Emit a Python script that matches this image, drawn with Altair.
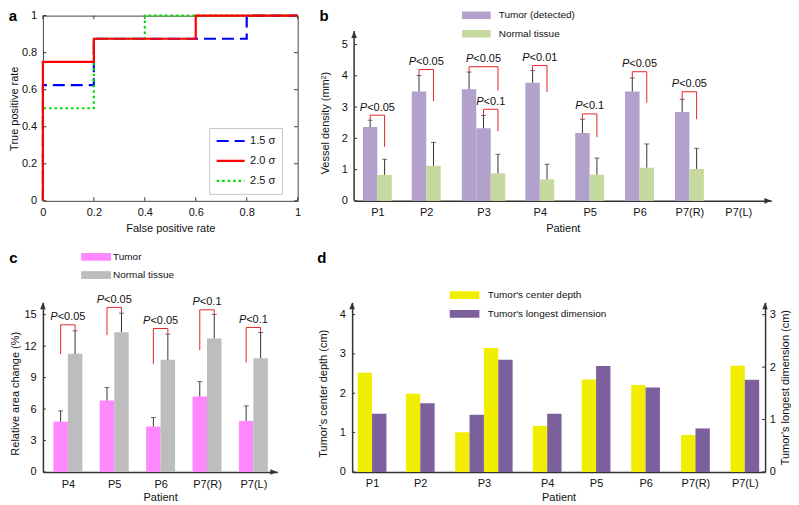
import json
import altair as alt
import pandas as pd

FONT = "Liberation Sans"
INK = "#111111"
AXIS_COL = "#333333"
ERR_COL = "#333333"
RED = "#e3262b"

# ---------------- (a) ROC curves ----------------
sigma_labels = ["1.5 σ", "2.0 σ", "2.5 σ"]
sigma_colors = ["#0000ff", "#ff0000", "#00e000"]
fpr_15 = [0, 0, 0.2, 0.2, 0.8, 0.8, 1]
tpr_15 = [0, 0.625, 0.625, 0.875, 0.875, 1, 1]
fpr_25 = [0, 0, 0.2, 0.2, 0.4, 0.4, 1]
tpr_25 = [0, 0.5, 0.5, 0.875, 0.875, 1, 1]
fpr_20 = [0, 0, 0.2, 0.2, 0.6, 0.6, 1]
tpr_20 = [0, 0.75, 0.75, 0.875, 0.875, 1, 1]
a_ticks = [0, 0.2, 0.4, 0.6, 0.8, 1]

# ---------------- (b) vessel density ----------------
patients = ["P1", "P2", "P3", "P4", "P5", "P6", "P7(R)", "P7(L)"]
b_series = ["Tumor (detected)", "Normal tissue"]
b_colors = ["#b2a2cb", "#c6da9f"]
b_tumor_patient = ["P1", "P2", "P3", "P3", "P4", "P5", "P6", "P7(R)"]
b_tumor_mean = [2.36, 3.50, 3.57, 2.32, 3.78, 2.17, 3.50, 2.84]
b_tumor_upper = [2.58, 4.01, 4.12, 2.73, 4.17, 2.61, 3.93, 3.25]
b_normal_patient = ["P1", "P2", "P3", "P4", "P5", "P6", "P7(R)"]
b_normal_mean = [0.83, 1.12, 0.88, 0.69, 0.84, 1.06, 1.02]
b_normal_upper = [1.33, 1.87, 1.49, 1.17, 1.37, 1.82, 1.68]
b_sig_tumor = [0, 1, 2, 3, 4, 5, 6, 7]
b_sig_normal = [0, 1, 2, 2, 3, 4, 5, 6]
b_sig_top = [2.74, 4.20, 4.29, 2.93, 4.33, 2.78, 4.13, 3.49]
b_sig_end = [1.73, 3.19, 3.53, 2.23, 3.48, 2.04, 3.14, 2.61]
b_sig_text = ["<0.05", "<0.05", "<0.05", "<0.1", "<0.01", "<0.1", "<0.05", "<0.05"]
b_yticks = [0, 1, 2, 3, 4, 5]

# ---------------- (c) relative area change ----------------
c_patients = ["P4", "P5", "P6", "P7(R)", "P7(L)"]
c_series = ["Tumor", "Normal tissue"]
c_colors = ["#ff88ff", "#bdbdbd"]
c_tumor_mean = [4.80, 6.81, 4.33, 7.19, 4.87]
c_tumor_upper = [5.82, 8.05, 5.19, 8.62, 6.30]
c_normal_mean = [11.26, 13.33, 10.69, 12.73, 10.85]
c_normal_upper = [13.46, 15.14, 13.14, 15.02, 13.30]
c_sig_top = [14.03, 15.69, 13.68, 15.46, 13.78]
c_sig_start = [11.23, 13.04, 10.28, 11.61, 10.44]
c_sig_text = ["<0.05", "<0.05", "<0.05", "<0.1", "<0.1"]
c_yticks = [0, 3, 6, 9, 12, 15]

# ---------------- (d) tumor depth / size ----------------
d_series = ["Tumor's center depth", "Tumor's longest dimension"]
d_colors = ["#f2ee00", "#7c5f9d"]
d_patient = ["P1", "P2", "P3", "P3", "P4", "P5", "P6", "P7(R)", "P7(L)"]
d_depth = [2.52, 1.99, 1.01, 3.15, 1.17, 2.35, 2.21, 0.94, 2.70]
d_dim = [1.11, 1.31, 1.09, 2.14, 1.11, 2.02, 1.61, 0.83, 1.76]
d_left_ticks = [0, 1, 2, 3, 4]
d_right_ticks = [0, 1, 2, 3]

# ---------------- layout (category positions, bar slots) ----------------
b_group_pos = [0, 0.99, 2.15, 3.29, 4.30, 5.31, 6.32, 7.31]
b_tumor_slot = [-1, -1, -1.5, -0.5, -1, -1, -1, -1]
b_normal_slot = [0, 0, 0.5, 0, 0, 0, 0]
BW_B = 0.293
B_AXIS_TOP = 5.43
c_group_pos = [0, 1, 2, 3, 4]
c_tumor_slot = [-1, -1, -1, -1, -1]
c_normal_slot = [0, 0, 0, 0, 0]
BW_C = 0.312
d_group_pos = [0, 0.976, 2.265, 3.547, 4.537, 5.54, 6.55, 7.55]
d_depth_slot = [-1, -1, -2, 0, -1, -1, -1, -1, -1]
d_dim_slot = [0, 0, -1, 1, 0, 0, 0, 0, 0]
BW_D = 0.291

ARROW_UP = "M-0.8,1L0,-1L0.8,1Z"
ARROW_RIGHT = "M-1,-0.8L1,0L-1,0.8Z"
SWATCH = "M-1,-0.26H1V0.26H-1Z"
CHAR_W = {"<": 0.584, "0": 0.556, "1": 0.556, "5": 0.556, ".": 0.278}
P_W = 0.667
PFS = 11


def build_bars(names, pos, plist, means, uppers, slots, series, bw):
    rows = []
    for i, p in enumerate(plist):
        x0 = pos[names.index(p)] + slots[i] * bw
        r = {"patient": p, "series": series, "value": means[i], "base": 0,
             "x0": x0, "x1": x0 + bw, "xc": x0 + bw / 2}
        if uppers is not None:
            r["upper"] = uppers[i]
        rows.append(r)
    return pd.DataFrame(rows)


def build_brackets(xl, yl, xr, yr, top, text):
    pts, labs = [], []
    for i in range(len(top)):
        for k, (x, y) in enumerate([(xl[i], yl[i]), (xl[i], top[i]), (xr[i], top[i]), (xr[i], yr[i])]):
            pts.append({"id": i, "k": k, "x": x, "y": y})
        labs.append({"id": i, "x": (xl[i] + xr[i]) / 2, "y": top[i], "rest": text[i]})
    return pd.DataFrame(pts), pd.DataFrame(labs)


def plabel_layers(df, X, Y):
    layers = []
    for rest in sorted(df["rest"].unique()):
        w_rest = sum(CHAR_W[ch] for ch in rest) * PFS
        left = -(P_W * PFS + w_rest) / 2
        sub = alt.Chart(df).transform_filter(alt.datum.rest == rest)
        layers.append(sub.mark_text(text="P", fontStyle="italic", align="left", baseline="middle",
                                    dx=left, dy=-7.5, fontSize=PFS, font=FONT, color=INK)
                      .encode(x=X("x"), y=Y("y")))
        layers.append(sub.mark_text(align="left", baseline="middle", dx=left + P_W * PFS, dy=-7.5,
                                    fontSize=PFS, font=FONT, color=INK)
                      .encode(x=X("x"), y=Y("y"), text="rest:N"))
    return layers


one = pd.DataFrame({"k": [0]})


def panel_label(txt, dx, dy):
    return alt.Chart(pd.DataFrame({"t": [txt]})).mark_text(
        align="left", baseline="top", fontSize=15, fontWeight="bold", font=FONT, color="#000"
    ).encode(x=alt.value(dx), y=alt.value(dy), text="t:N")


def arrow(shape, x, y):
    return alt.Chart(one).mark_point(shape=shape, filled=True, size=49, opacity=1, color=AXIS_COL,
                                     strokeWidth=0).encode(x=alt.value(x), y=alt.value(y))


def cat_label_expr(names, pos):
    return f"{json.dumps(names)}[indexof({json.dumps(pos)}, datum.value)]"


def bar_legend(lx, ly, size, label_offset, row_pad):
    return alt.Legend(title=None, orient="none", legendX=lx, legendY=ly, symbolType=SWATCH,
                      symbolSize=size, symbolStrokeWidth=0, symbolOpacity=1, clipHeight=10,
                      rowPadding=row_pad, labelOffset=label_offset, labelFontSize=10, padding=0,
                      labelColor=INK, labelFont=FONT)


# ================= panel a =================
Wa, Ha = 255.4, 185.7
xa_scale = alt.Scale(domain=[0, 1], nice=False, zero=False)
ya_scale = alt.Scale(domain=[0, 1], nice=False, zero=False)
ax_a_x = alt.Axis(values=a_ticks, format="~g", title="False positive rate", ticks=False, domain=False,
                  grid=False, labelFlush=False, labelPadding=6, titlePadding=5)
ax_a_y = alt.Axis(values=a_ticks, format="~g", title="True positive rate", ticks=False, domain=False,
                  grid=False, labelFlush=False, labelPadding=6.3, titlePadding=1.5)


def XA(f):
    return alt.X(f, type="quantitative", scale=xa_scale, axis=ax_a_x)


def YA(f):
    return alt.Y(f, type="quantitative", scale=ya_scale, axis=ax_a_y)


roc_rows = []
for lab, fx, ty in [("1.5 σ", fpr_15, tpr_15), ("2.5 σ", fpr_25, tpr_25), ("2.0 σ", fpr_20, tpr_20)]:
    for k, (x, y) in enumerate(zip(fx, ty)):
        roc_rows.append({"sigma": lab, "step": k, "fpr": x, "tpr": y})
roc_df = pd.DataFrame(roc_rows)

leg_a = alt.Legend(title=None, orient="none", legendX=166.7, legendY=112.7, symbolType="stroke",
                   symbolSize=784, symbolStrokeWidth=2.2, strokeColor="#c8c8c8", fillColor="white",
                   padding=6, clipHeight=14, rowPadding=6, labelFontSize=11, labelOffset=4,
                   labelColor=INK, labelFont=FONT)

roc = alt.Chart(roc_df).mark_line(strokeWidth=2.2, strokeCap="butt", strokeJoin="miter").encode(
    x=XA("fpr"), y=YA("tpr"),
    color=alt.Color("sigma:N", scale=alt.Scale(domain=sigma_labels, range=sigma_colors), legend=leg_a),
    strokeDash=alt.StrokeDash("sigma:N", scale=alt.Scale(domain=sigma_labels,
                                                         range=[[12, 6], [1, 0], [2.5, 3]]), legend=leg_a),
    order="step:Q",
)
ta = pd.DataFrame({"v": a_ticks})
a_tick_layers = [
    alt.Chart(ta).mark_rule(color=AXIS_COL, strokeWidth=1).encode(x=XA("v"), y=alt.value(Ha), y2=alt.value(Ha - 3.5)),
    alt.Chart(ta).mark_rule(color=AXIS_COL, strokeWidth=1).encode(x=XA("v"), y=alt.value(0), y2=alt.value(3.5)),
    alt.Chart(ta).mark_rule(color=AXIS_COL, strokeWidth=1).encode(y=YA("v"), x=alt.value(0), x2=alt.value(3.5)),
    alt.Chart(ta).mark_rule(color=AXIS_COL, strokeWidth=1).encode(y=YA("v"), x=alt.value(Wa), x2=alt.value(Wa - 3.5)),
]
panel_a = alt.layer(*a_tick_layers, roc, panel_label("a", -34.3, -6.3)).properties(
    width=Wa, height=Ha, view=alt.ViewBackground(stroke="#444444", strokeWidth=1))

# ================= panel b =================
Wb, Hb = 418.3, 185.7
B_PX = 31.34
xb_scale = alt.Scale(domain=[-0.471, 7.98], nice=False, zero=False)
yb_scale = alt.Scale(domain=[0, Hb / B_PX], nice=False, zero=False)
ax_b_x = alt.Axis(values=b_group_pos, labelExpr=cat_label_expr(patients, b_group_pos), title="Patient",
                  ticks=False, grid=False, labelFlush=False, labelOverlap=False, domainWidth=1.5,
                  labelPadding=5.5, titlePadding=5)
ax_b_y = alt.Axis(values=b_yticks, title="Vessel density (mm²)", ticks=False, grid=False, labelFlush=False,
                  domain=False, labelPadding=6.7, titlePadding=10.6, titleY=107.3)


def XB(f):
    return alt.X(f, type="quantitative", scale=xb_scale, axis=ax_b_x)


def YB(f):
    return alt.Y(f, type="quantitative", scale=yb_scale, axis=ax_b_y)


b_t = build_bars(patients, b_group_pos, b_tumor_patient, b_tumor_mean, b_tumor_upper, b_tumor_slot, b_series[0], BW_B)
b_n = build_bars(patients, b_group_pos, b_normal_patient, b_normal_mean, b_normal_upper, b_normal_slot, b_series[1], BW_B)
b_df = pd.concat([b_t, b_n], ignore_index=True)
b_br, b_lab = build_brackets(
    [b_t.xc[i] for i in b_sig_tumor], [b_t.upper[i] for i in b_sig_tumor],
    [b_n.xc[i] for i in b_sig_normal], b_sig_end, b_sig_top, b_sig_text)
b_axis_line = pd.DataFrame({"y0": [0], "y1": [B_AXIS_TOP]})
b_arrow_y = Hb - B_AXIS_TOP * B_PX + 3.5

b_layers = [
    alt.Chart(b_df).mark_bar().encode(
        x=XB("x0"), x2="x1", y=YB("value"), y2="base",
        color=alt.Color("series:N", scale=alt.Scale(domain=b_series, range=b_colors),
                        legend=bar_legend(108, -5.3, 841, 8, 8.5))),
    alt.Chart(b_df).mark_rule(color=ERR_COL, strokeWidth=1).encode(x=XB("xc"), y=YB("value"), y2="upper"),
    alt.Chart(b_df).mark_tick(orient="horizontal", size=5, thickness=1, color=ERR_COL).encode(x=XB("xc"), y=YB("upper")),
    alt.Chart(b_br).mark_line(color=RED, strokeWidth=1).encode(x=XB("x"), y=YB("y"), detail="id:N", order="k:Q"),
    *plabel_layers(b_lab, XB, YB),
    alt.Chart(pd.DataFrame({"v": b_yticks})).mark_rule(color=AXIS_COL).encode(y=YB("v"), x=alt.value(0), x2=alt.value(3)),
    alt.Chart(b_axis_line).mark_rule(color=AXIS_COL, strokeWidth=1.5).encode(x=alt.value(0), y=YB("y0"), y2="y1"),
    arrow(ARROW_UP, 0, b_arrow_y),
    arrow(ARROW_RIGHT, Wb - 3.5, Hb),
    panel_label("b", -34.7, -6.3),
]
panel_b = alt.layer(*b_layers).properties(width=Wb, height=Hb)

# ================= panel c =================
Wc, Hc = 235, 170
xc_scale = alt.Scale(domain=[-0.538, 4.516], nice=False, zero=False)
yc_scale = alt.Scale(domain=[0, 16.17], nice=False, zero=False)
ax_c_x = alt.Axis(values=c_group_pos, labelExpr=cat_label_expr(c_patients, c_group_pos), title="Patient",
                  ticks=False, grid=False, labelFlush=False, labelOverlap=False, domainWidth=1.5,
                  labelPadding=7, titlePadding=1.5)
ax_c_y = alt.Axis(values=c_yticks, title="Relative area change (%)", ticks=False, grid=False, labelFlush=False,
                  domainWidth=1.5, labelPadding=6.7, titlePadding=3.8, titleY=91.1)


def XC(f):
    return alt.X(f, type="quantitative", scale=xc_scale, axis=ax_c_x)


def YC(f):
    return alt.Y(f, type="quantitative", scale=yc_scale, axis=ax_c_y)


c_t = build_bars(c_patients, c_group_pos, c_patients, c_tumor_mean, c_tumor_upper, c_tumor_slot, c_series[0], BW_C)
c_n = build_bars(c_patients, c_group_pos, c_patients, c_normal_mean, c_normal_upper, c_normal_slot, c_series[1], BW_C)
c_df = pd.concat([c_t, c_n], ignore_index=True)
c_br, c_lab = build_brackets(list(c_t.xc), c_sig_start, list(c_n.xc), list(c_n.upper), c_sig_top, c_sig_text)

c_layers = [
    alt.Chart(c_df).mark_bar().encode(
        x=XC("x0"), x2="x1", y=YC("value"), y2="base",
        color=alt.Color("series:N", scale=alt.Scale(domain=c_series, range=c_colors),
                        legend=bar_legend(38.3, -50.7, 900, 2, 8.3))),
    alt.Chart(c_df).mark_rule(color=ERR_COL, strokeWidth=1).encode(x=XC("xc"), y=YC("value"), y2="upper"),
    alt.Chart(c_df).mark_tick(orient="horizontal", size=5, thickness=1, color=ERR_COL).encode(x=XC("xc"), y=YC("upper")),
    alt.Chart(c_br).mark_line(color=RED, strokeWidth=1).encode(x=XC("x"), y=YC("y"), detail="id:N", order="k:Q"),
    *plabel_layers(c_lab, XC, YC),
    alt.Chart(pd.DataFrame({"v": c_yticks})).mark_rule(color=AXIS_COL).encode(y=YC("v"), x=alt.value(0), x2=alt.value(3)),
    arrow(ARROW_UP, 0, 3.5),
    arrow(ARROW_RIGHT, Wc - 3.5, Hc),
    panel_label("c", -33.7, -51.2),
]
panel_c = alt.layer(*c_layers).properties(width=Wc, height=Hc)

# ================= panel d =================
Wd, Hd = 414, 170
xd_scale = alt.Scale(domain=[-0.404, 7.96], nice=False, zero=False)
yl_scale = alt.Scale(domain=[0, 4.31], nice=False, zero=False)
yr_scale = alt.Scale(domain=[0, 3.234], nice=False, zero=False)
ax_d_x = alt.Axis(values=d_group_pos, labelExpr=cat_label_expr(patients, d_group_pos), title="Patient",
                  ticks=False, grid=False, labelFlush=False, labelOverlap=False, domainWidth=1.5,
                  labelPadding=6, titlePadding=2.5)
ax_d_yl = alt.Axis(orient="left", values=d_left_ticks, title="Tumor's center depth (cm)", ticks=False,
                   grid=False, labelFlush=False, domainWidth=1.5, labelPadding=6.7, titlePadding=10.9,
                   titleY=91.1)
ax_d_yr = alt.Axis(orient="right", values=d_right_ticks, title="Tumor's longest dimension (cm)", ticks=False,
                   grid=False, labelFlush=False, domainWidth=1.5, labelPadding=4.3, titlePadding=4,
                   titleAngle=270, titleBaseline="top")


def XD(f):
    return alt.X(f, type="quantitative", scale=xd_scale, axis=ax_d_x)


def YL(f):
    return alt.Y(f, type="quantitative", scale=yl_scale, axis=ax_d_yl)


def YR(f):
    return alt.Y(f, type="quantitative", scale=yr_scale, axis=ax_d_yr)


d_a = build_bars(patients, d_group_pos, d_patient, d_depth, None, d_depth_slot, d_series[0], BW_D)
d_b = build_bars(patients, d_group_pos, d_patient, d_dim, None, d_dim_slot, d_series[1], BW_D)
d_color_scale = alt.Scale(domain=d_series, range=d_colors)
leg_d = bar_legend(97.6, -12.2, 900, 8.4, 8.7)

d_left = alt.layer(
    alt.Chart(d_a).mark_bar().encode(x=XD("x0"), x2="x1", y=YL("value"), y2="base",
                                     color=alt.Color("series:N", scale=d_color_scale, legend=leg_d)),
    alt.Chart(pd.DataFrame({"v": d_left_ticks})).mark_rule(color=AXIS_COL).encode(
        y=YL("v"), x=alt.value(0), x2=alt.value(3)),
)
d_right = alt.layer(
    alt.Chart(d_b).mark_bar().encode(x=XD("x0"), x2="x1", y=YR("value"), y2="base",
                                     color=alt.Color("series:N", scale=d_color_scale, legend=leg_d)),
    alt.Chart(pd.DataFrame({"v": d_right_ticks})).mark_rule(color=AXIS_COL).encode(
        y=YR("v"), x=alt.value(Wd - 3), x2=alt.value(Wd)),
)
panel_d = alt.layer(
    d_left, d_right,
    arrow(ARROW_UP, 0, 3.5),
    arrow(ARROW_UP, Wd, 3.5),
    panel_label("d", -35, -51.2),
).resolve_scale(y="independent").properties(width=Wd, height=Hd)

# ================= assemble =================
RES = dict(x="independent", y="independent", color="independent", strokeDash="independent")
top = alt.hconcat(panel_a, panel_b, spacing=16).resolve_scale(**RES)
bottom = alt.hconcat(panel_c, panel_d, spacing=40).resolve_scale(**RES)
chart = (
    alt.vconcat(top, bottom, spacing=15.5).resolve_scale(**RES)
    .properties(padding=0)
    .configure_view(strokeWidth=0)
    .configure_axis(labelFont=FONT, titleFont=FONT, labelFontSize=11, titleFontSize=11,
                    titleFontWeight="normal", labelColor=INK, titleColor=INK, domainColor=AXIS_COL)
    .configure_legend(labelFont=FONT)
)
chart.save("out.html", embed_options={"renderer": "svg", "actions": False})
